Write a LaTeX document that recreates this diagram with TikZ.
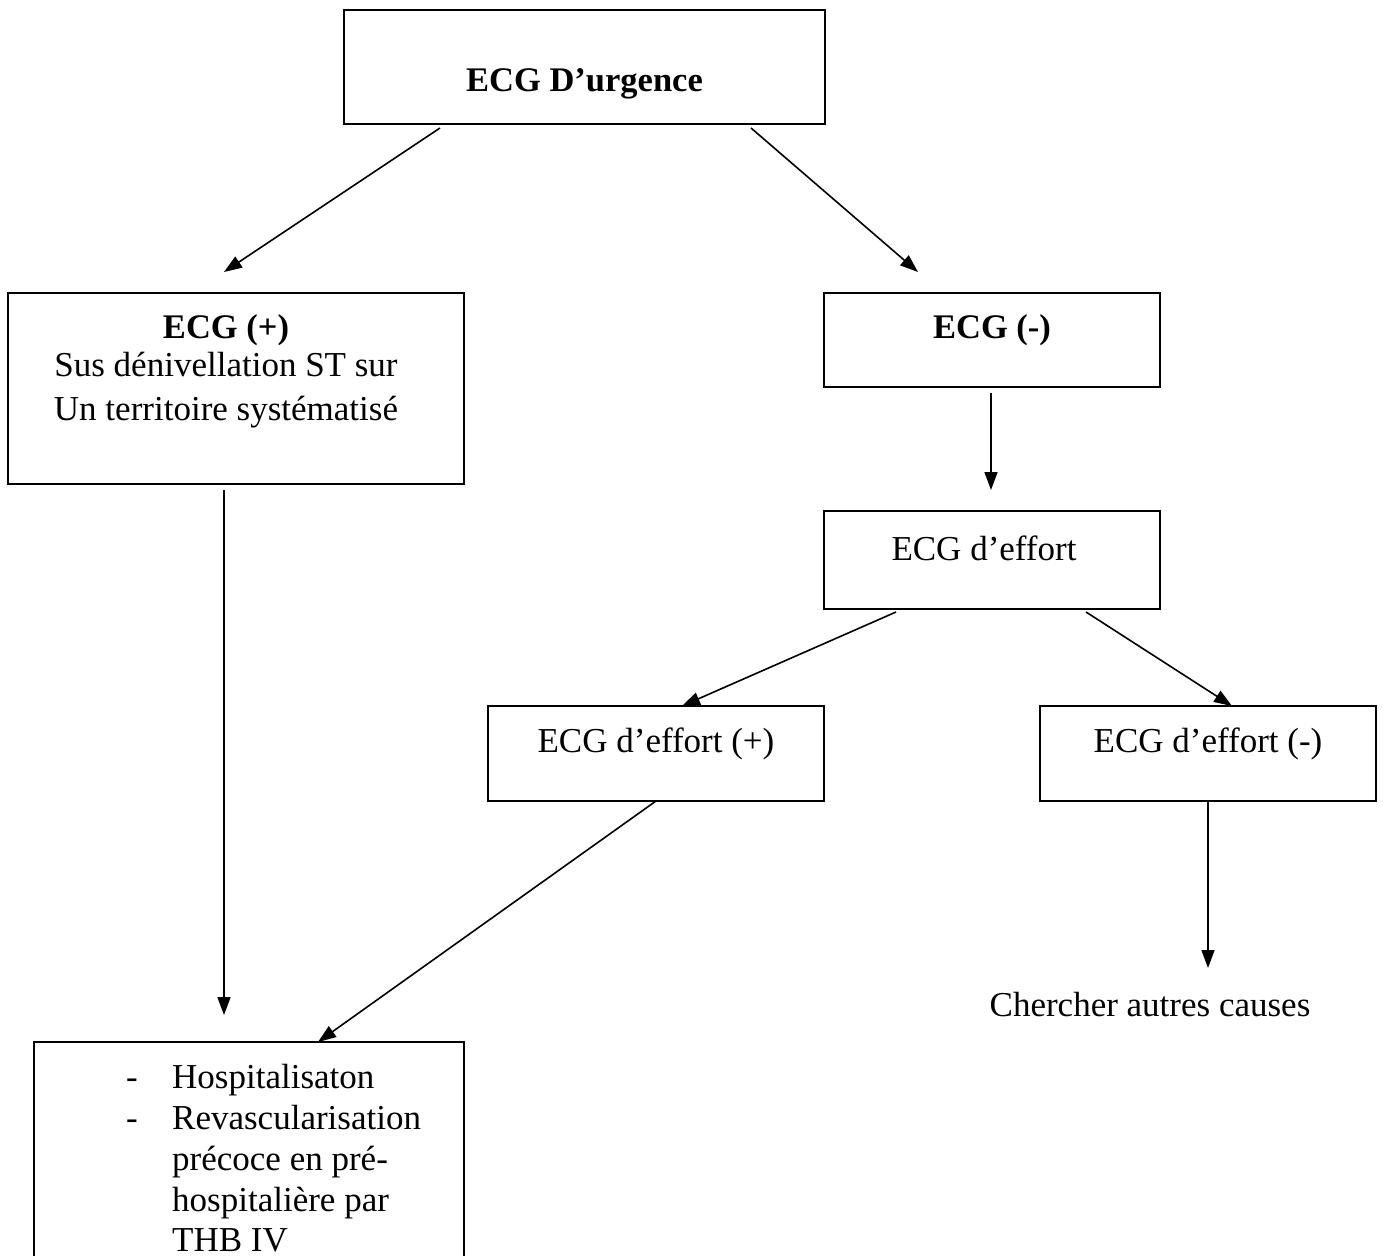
\documentclass[tikz,border=0pt]{standalone}
\usepackage{fontspec}
\setmainfont{Liberation Serif}
\usetikzlibrary{arrows.meta,calc}
\begin{document}
\begin{tikzpicture}[x=1pt,y=-1pt,
  box/.style={draw,line width=2pt,inner sep=0pt,outer sep=0pt},
  txt/.style={anchor=base,inner sep=0pt,font=\fontsize{35}{41}\selectfont},
  txtb/.style={anchor=base,inner sep=0pt,font=\fontsize{34.5}{41}\selectfont\bfseries},
  arr/.style={line width=1.6pt,-{Triangle[length=18pt,width=13pt]}}]
\useasboundingbox (0,0) rectangle (1383,1255);
\fill[white] (0,0) rectangle (1383,1255);
% boxes
\node[box,minimum width=481pt,minimum height=114pt] (b1) at (584.5,67) {};
\node[box,minimum width=456pt,minimum height=191pt] (b2) at (236,388.5) {};
\node[box,minimum width=336pt,minimum height=94pt] (b3) at (992,340) {};
\node[box,minimum width=336pt,minimum height=98pt] (b4) at (992,560) {};
\node[box,minimum width=336pt,minimum height=95pt] (b5) at (656,753.5) {};
\node[box,minimum width=336pt,minimum height=95pt] (b6) at (1208,753.5) {};
\node[box,minimum width=430pt,minimum height=258pt] (b7) at (249,1171) {};
% texts
\node[txtb] (t1) at (584.5,92) {ECG D’urgence};
\node[txtb] (t2a) at (226,338) {ECG (+)};
\node[txt] (t2b) at (226,376) {Sus dénivellation ST sur};
\node[txt] (t2c) at (226,420) {Un territoire systématisé};
\node[txtb] (t3) at (992,338) {ECG (-)};
\node[txt] (t4) at (984,560) {ECG d’effort};
\node[txt] (t5) at (656,752) {ECG d’effort (+)};
\node[txt] (t6) at (1208,752) {ECG d’effort (-)};
\node[txt] (cause) at (1150,1016) {Chercher autres causes};
\node[txt,anchor=base west] (d1) at (126,1088) {-};
\node[txt,anchor=base west] (d2) at (126,1129) {-};
\node[txt,anchor=base west] (l1) at (172,1088) {Hospitalisaton};
\node[txt,anchor=base west] (l2) at (172,1129) {Revascularisation};
\node[txt,anchor=base west] (l3) at (172,1170) {précoce en pré-};
\node[txt,anchor=base west] (l4) at (172,1211) {hospitalière par};
\node[txt,anchor=base west] (l5) at (172,1251) {THB IV};
% connectors
\draw[arr] ($(b1.south west)+(96,4)$) -- ($(b2.north west)+(216,-21)$);
\draw[arr] ($(b1.south east)+(-74,4)$) -- ($(b3.north west)+(94,-21)$);
\draw[arr] ($(b2.south west)+(216,6)$) -- ($(b7.north west)+(190,-27)$);
\draw[arr] ($(b3.south)+(-1,6)$) -- ($(b4.north)+(-1,-21)$);
\draw[arr] ($(b4.south west)+(72,3)$) -- ($(b5.north)+(26,0)$);
\draw[arr] ($(b4.south west)+(262,3)$) -- ($(b6.north)+(24,0)$);
\draw[arr] (b5.south) -- ($(b7.north west)+(284,0)$);
\draw[arr] (b6.south) -- ($(b6.south)+(0,167)$);
\end{tikzpicture}
\end{document}
